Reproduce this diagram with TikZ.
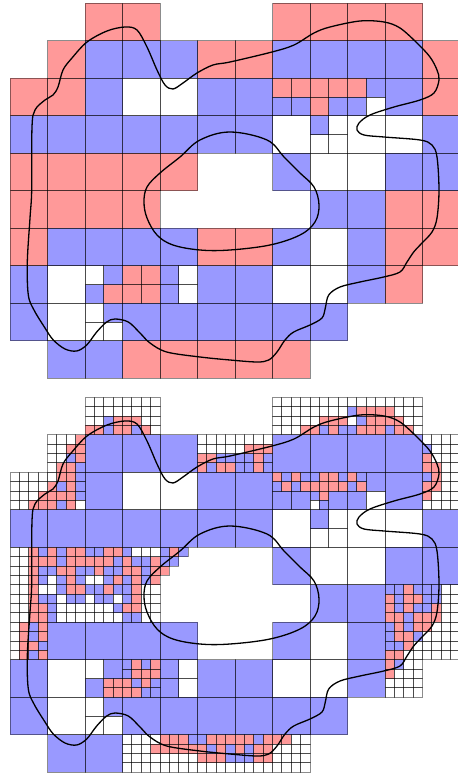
\documentclass[tikz,border=0pt]{standalone}
\definecolor{cp}{RGB}{255,153,153}
\definecolor{cb}{RGB}{153,153,255}
\definecolor{cw}{RGB}{255,255,255}
\newif\ifbordpass
\tikzset{cellb/.style={draw=black,draw opacity=0.45,line width=0.9pt},
  curve/.style={draw=black,line width=1.3pt,line join=round}}
\newcommand{\cX}[4]{%
  \if n#4\relax\else
    \edef\tmpcol{c#4}%
    \ifbordpass
      \path[cellb] ({10+9.375*(#1)},{3.3+9.375*(#2)}) rectangle ++({9.375*(#3)},{9.375*(#3)});%
    \else
      \fill[fill=\tmpcol] ({10+9.375*(#1)},{3.3+9.375*(#2)}) rectangle ++({9.375*(#3)},{9.375*(#3)});%
    \fi
  \fi}
\newcommand{\cQ}[3]{\cX{4*#1}{4*#2}{4}{#3}}
\newcommand{\cH}[6]{\cX{4*#1}{4*#2}{2}{#3}\cX{4*#1+2}{4*#2}{2}{#4}\cX{4*#1}{4*#2+2}{2}{#5}\cX{4*#1+2}{4*#2+2}{2}{#6}}
\newcommand{\cFrow}[4]{\foreach \v [count=\i from 0] in {#4} {\cX{4*#1+\i}{4*#2+#3}{1}{\v}}}
\newcommand{\cF}[6]{\cFrow{#1}{#2}{0}{#3}\cFrow{#1}{#2}{1}{#4}\cFrow{#1}{#2}{2}{#5}\cFrow{#1}{#2}{3}{#6}}

\newcommand{\topcells}{%
\cQ{2}{0}{p}\cQ{3}{0}{p}\cQ{7}{0}{p}\cQ{8}{0}{p}\cQ{9}{0}{p}\cQ{10}{0}{p}%
\cQ{1}{1}{p}\cQ{2}{1}{b}\cQ{3}{1}{b}\cQ{4}{1}{b}\cQ{5}{1}{p}\cQ{6}{1}{p}\cQ{7}{1}{b}\cQ{8}{1}{b}\cQ{9}{1}{b}\cQ{10}{1}{b}\cQ{11}{1}{p}%
\cQ{0}{2}{p}\cQ{1}{2}{p}\cQ{2}{2}{b}\cQ{3}{2}{w}\cQ{4}{2}{w}\cQ{5}{2}{b}\cQ{6}{2}{b}\cH{7}{2}{p}{p}{b}{b}\cH{8}{2}{p}{p}{p}{b}\cH{9}{2}{p}{b}{b}{w}\cQ{10}{2}{b}\cQ{11}{2}{p}%
\cQ{0}{3}{b}\cQ{1}{3}{b}\cQ{2}{3}{b}\cQ{3}{3}{b}\cQ{4}{3}{b}\cQ{5}{3}{b}\cQ{6}{3}{b}\cQ{7}{3}{w}\cH{8}{3}{b}{w}{w}{w}\cQ{9}{3}{w}\cQ{10}{3}{w}\cQ{11}{3}{b}%
\cQ{0}{4}{p}\cQ{1}{4}{p}\cQ{2}{4}{p}\cQ{3}{4}{p}\cQ{4}{4}{p}\cQ{7}{4}{b}\cQ{8}{4}{w}\cQ{9}{4}{w}\cQ{10}{4}{b}\cQ{11}{4}{b}%
\cQ{0}{5}{p}\cQ{1}{5}{p}\cQ{2}{5}{p}\cQ{3}{5}{p}\cQ{8}{5}{b}\cQ{9}{5}{b}\cQ{10}{5}{p}\cQ{11}{5}{p}%
\cQ{0}{6}{p}\cQ{1}{6}{b}\cQ{2}{6}{b}\cQ{3}{6}{b}\cQ{4}{6}{b}\cQ{5}{6}{p}\cQ{6}{6}{p}\cQ{7}{6}{b}\cQ{8}{6}{w}\cQ{9}{6}{b}\cQ{10}{6}{p}\cQ{11}{6}{p}%
\cQ{0}{7}{b}\cQ{1}{7}{w}\cH{2}{7}{w}{b}{b}{p}\cH{3}{7}{p}{p}{p}{p}\cH{4}{7}{b}{w}{b}{w}\cQ{5}{7}{b}\cQ{6}{7}{b}\cQ{7}{7}{w}\cQ{8}{7}{w}\cQ{9}{7}{b}\cQ{10}{7}{p}%
\cQ{0}{8}{b}\cQ{1}{8}{w}\cH{2}{8}{w}{b}{w}{w}\cQ{3}{8}{b}\cQ{4}{8}{b}\cQ{5}{8}{b}\cQ{6}{8}{b}\cQ{7}{8}{b}\cQ{8}{8}{b}%
\cQ{1}{9}{b}\cQ{2}{9}{b}\cQ{3}{9}{p}\cQ{4}{9}{p}\cQ{5}{9}{p}\cQ{6}{9}{p}\cQ{7}{9}{p}%
}

\newcommand{\botcells}{%
% row 0
\cF{2}{0}{w,w,w,w}{w,w,w,w}{w,w,b,p}{p,p,b,p}%
\cF{3}{0}{w,w,w,w}{w,w,w,w}{p,p,w,w}{p,b,p,w}%
\cF{7}{0}{w,w,w,w}{w,w,w,w}{w,w,w,w}{w,w,w,p}%
\cF{8}{0}{w,w,w,w}{w,w,w,w}{w,p,p,p}{p,b,p,b}%
\cF{9}{0}{w,w,w,w}{b,p,p,p}{w,b,p,p}{b,p,p,p}%
\cF{10}{0}{w,w,w,w}{p,w,w,w}{p,p,w,w}{b,p,p,w}%
% row 1
\cF{1}{1}{w,w,w,p}{w,w,p,p}{w,w,b,p}{w,p,p,b}%
\cQ{2}{1}{b}\cQ{3}{1}{b}\cQ{4}{1}{b}%
\cF{5}{1}{w,w,w,w}{w,w,w,w}{p,p,b,b}{p,b,p,p}%
\cF{6}{1}{w,w,w,w}{w,p,p,p}{b,b,p,b}{b,b,p,b}%
\cQ{7}{1}{b}\cQ{8}{1}{b}\cQ{9}{1}{b}\cQ{10}{1}{b}%
\cF{11}{1}{w,w,w,w}{b,w,w,w}{p,w,w,w}{p,p,w,w}%
% row 2
\cF{0}{2}{w,w,w,w}{w,w,w,w}{w,w,w,p}{w,w,p,p}%
\cF{1}{2}{w,p,p,b}{p,b,p,b}{p,p,p,b}{p,b,p,w}%
\cQ{2}{2}{b}\cQ{3}{2}{w}\cQ{4}{2}{w}\cQ{5}{2}{b}\cQ{6}{2}{b}%
\cFrow{7}{2}{0}{p,b,p,b}\cFrow{7}{2}{1}{b,p,b,p}\cX{28}{10}{2}{b}\cX{30}{10}{2}{b}%
\cFrow{8}{2}{0}{b,p,p,b}\cFrow{8}{2}{1}{p,p,p,p}\cFrow{8}{2}{2}{b,p}\cFrow{8}{2}{3}{w,b}\cX{34}{10}{2}{b}%
\cFrow{9}{2}{0}{p,b}\cFrow{9}{2}{1}{b,p}\cX{38}{8}{2}{b}\cX{36}{10}{2}{b}\cX{38}{10}{2}{w}%
\cQ{10}{2}{b}%
\cF{11}{2}{b,p,w,w}{p,p,w,w}{p,w,w,w}{w,w,w,w}%
% row 3
\cQ{0}{3}{b}\cQ{1}{3}{b}\cQ{2}{3}{b}\cQ{3}{3}{b}\cQ{4}{3}{b}\cQ{5}{3}{b}\cQ{6}{3}{b}\cQ{7}{3}{w}\cH{8}{3}{b}{w}{w}{w}\cQ{9}{3}{w}\cQ{10}{3}{w}\cQ{11}{3}{b}%
% row 4
\cF{0}{4}{w,w,p,b}{w,w,p,p}{w,w,p,b}{w,w,p,b}%
\cF{1}{4}{p,b,p,p}{p,b,p,p}{b,p,p,b}{w,b,p,b}%
\cF{2}{4}{b,b,p,p}{p,p,p,b}{b,p,b,b}{w,w,b,p}%
\cF{3}{4}{b,w,w,w}{p,b,b,p}{p,p,b,p}{b,p,b,p}%
\cF{4}{4}{b,p,b,n}{b,b,n,n}{p,n,n,n}{n,n,n,n}%
\cQ{7}{4}{b}\cQ{8}{4}{w}\cQ{9}{4}{w}\cQ{10}{4}{b}\cQ{11}{4}{b}%
% row 5
\cF{0}{5}{w,w,p,w}{w,w,p,b}{w,w,p,p}{w,w,p,p}%
\cF{1}{5}{w,b,p,p}{b,w,b,b}{b,w,w,w}{b,w,w,w}%
\cF{2}{5}{b,b,p,b}{w,b,b,w}{w,w,w,b}{w,w,w,w}%
\cF{3}{5}{b,p,w,w}{b,p,w,w}{p,p,w,w}{b,b,w,w}%
\cQ{8}{5}{b}\cQ{9}{5}{b}%
\cF{10}{5}{b,b,p,b}{p,b,p,p}{p,b,p,b}{p,p,b,p}%
\cF{11}{5}{b,b,w,w}{b,b,w,w}{b,p,w,w}{p,p,w,w}%
% row 6
\cF{0}{6}{w,p,b,p}{w,p,b,p}{w,p,p,b}{w,p,b,p}%
\cQ{1}{6}{b}\cQ{2}{6}{b}\cQ{3}{6}{b}\cQ{4}{6}{b}\cQ{7}{6}{b}\cQ{8}{6}{w}\cQ{9}{6}{b}%
\cF{10}{6}{b,p,b,p}{b,p,p,b}{b,b,p,w}{p,p,w,w}%
\cF{11}{6}{p,w,w,w}{w,w,w,w}{w,w,w,w}{w,w,w,w}%
% row 7
\cQ{0}{7}{b}\cQ{1}{7}{w}\cX{8}{28}{2}{w}\cX{10}{28}{2}{b}\cX{8}{30}{2}{b}\cFrow{2}{7}{2}{n,n,p,p}\cFrow{2}{7}{3}{n,n,p,p}%
\cF{3}{7}{b,p,b,p}{b,p,p,p}{p,b,p,b}{p,p,b,b}%
\cH{4}{7}{b}{w}{b}{w}\cQ{5}{7}{b}\cQ{6}{7}{b}\cQ{7}{7}{w}\cQ{8}{7}{w}\cQ{9}{7}{b}%
\cF{10}{7}{p,b,w,w}{p,w,w,w}{w,w,w,w}{w,w,w,w}%
% row 8
\cQ{0}{8}{b}\cQ{1}{8}{w}\cH{2}{8}{w}{b}{w}{w}\cQ{3}{8}{b}\cQ{4}{8}{b}\cQ{5}{8}{b}\cQ{6}{8}{b}\cQ{7}{8}{b}\cQ{8}{8}{b}%
% row 9
\cQ{1}{9}{b}\cQ{2}{9}{b}%
\cF{3}{9}{w,w,w,w}{w,w,w,p}{w,w,w,w}{w,w,w,w}%
\cF{4}{9}{p,p,p,b}{p,p,p,p}{w,w,w,w}{w,w,w,w}%
\cF{5}{9}{b,p,p,p}{p,b,p,b}{p,p,p,b}{w,w,w,w}%
\cF{6}{9}{p,p,b,p}{p,b,p,p}{b,b,p,p}{w,w,w,w}%
\cF{7}{9}{p,p,w,w}{w,w,w,w}{w,w,w,w}{w,w,w,w}%
}

\begin{document}
\begin{tikzpicture}[x=1pt,y=-1pt]
\path[use as bounding box] (0,0) rectangle (457,775);
\bordpassfalse\topcells
\bordpasstrue\topcells
\begin{scope}[shift={(0,394)}]
\bordpassfalse\botcells
\bordpasstrue\botcells
\end{scope}
\foreach \sh in {0,394} {
\begin{scope}[shift={(0,\sh)}]
\draw[curve] plot[smooth cycle,tension=0.55] coordinates {(31.7,190) (30,218) (27.3,262) (28.3,295) (34,310) (45,328) (53.3,340) (65,349) (76.7,351) (86.7,345) (96.7,332) (106.7,322) (115,319) (128.3,322) (140,333) (150,343) (166.7,352) (200,357) (230,360) (257,362) (268.7,360) (277,352) (285,340) (293.7,332) (310,325) (322,318) (325.3,308) (328.7,295) (340,287) (360,282) (383.7,277) (400,272) (407,262) (413.7,252) (422,243) (432,232) (437,218) (439,190) (437,157) (432,145) (420,140) (384,137) (364,135) (357,130) (359,123) (370,115) (394,107) (420,100) (434,93) (439,80) (437,70) (430,57) (417,43) (400,28) (384,22) (360,21) (330,27) (314,33) (294,45) (272,52) (230,62) (213,65) (197,73) (183,83) (173,89) (165,85) (157,70) (147,47) (137,30) (125,27) (107,31) (87,42) (72,58) (63,70) (58,87) (53,95) (45,100) (35,110) (32,127)};
\draw[curve] plot[smooth cycle,tension=0.6] coordinates {(230,132) (267,140) (284,157) (300,173) (314,187) (319,205) (315,222) (300,235) (270,245) (230,250) (200,250) (173,245) (157,235) (147,218) (144,202) (147,187) (160,173) (180,157) (200,140)};
\end{scope}
}
\end{tikzpicture}
\end{document}
